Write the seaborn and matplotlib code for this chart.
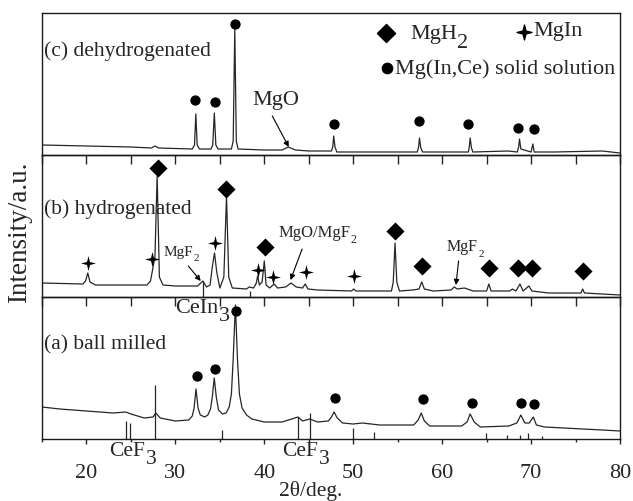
import matplotlib
matplotlib.use("Agg")
import matplotlib.pyplot as plt
from matplotlib.path import Path
import pandas as pd
import seaborn as sns

# ---------------- data (2theta in deg, intensity a.u.) -------------
# (c) dehydrogenated
pattern_c = [(15, 10), (20, 9), (25, 8), (27.3, 7), (27.7, 9), (28.1, 7), (31.9, 6), (32.15, 10),
             (32.3, 41), (32.45, 10), (32.7, 6), (34.0, 6), (34.2, 10), (34.38, 42), (34.55, 10),
             (34.8, 6), (36.3, 6), (36.5, 14), (36.68, 126), (36.85, 14), (37.05, 6), (40, 5),
             (42.0, 5), (42.7, 8), (43.5, 5), (45, 4), (47.55, 4), (47.7, 8), (47.8, 19), (47.95, 8),
             (48.15, 3), (57.2, 3), (57.35, 8), (57.45, 17), (57.6, 7), (57.8, 3), (62.95, 3),
             (63.05, 8), (63.15, 17), (63.3, 7), (63.45, 3), (67.4, 4), (68.45, 3), (68.6, 8),
             (68.7, 16), (68.85, 6), (70.0, 3), (70.2, 11), (70.35, 3), (72.6, 3), (78, 4), (80, 2)]
dots_c_x = [32.25, 34.4, 36.65, 47.85, 57.4, 62.95, 68.5, 70.35]
dots_c_y = [55, 53, 131, 31, 34, 31, 27, 26]

# (b) hydrogenated
pattern_b = [(15, 14), (19.6, 13), (19.9, 16), (20.15, 24), (20.4, 15), (21, 12), (25, 12), (26.8, 12),
             (27.2, 16), (27.45, 28), (27.7, 40), (27.95, 121), (28.2, 20), (28.6, 12), (30, 11),
             (32.5, 11), (33.1, 16), (33.5, 10), (33.9, 12), (34.15, 30), (34.4, 44), (34.65, 25),
             (35.0, 9), (35.45, 20), (35.75, 101), (36.0, 20), (36.4, 9), (38.0, 8), (38.3, 10),
             (38.8, 9), (39.1, 14), (39.25, 21), (39.45, 12), (39.75, 15), (40.0, 36), (40.2, 12),
             (40.6, 9), (41.1, 13), (41.5, 9), (42.4, 10), (43.0, 14), (43.6, 10), (44.3, 9),
             (44.6, 13), (44.9, 8), (46, 7), (49.8, 6), (50.05, 8), (50.3, 6), (54.3, 6), (54.5, 15),
             (54.7, 54), (54.9, 15), (55.2, 6), (56.7, 7), (57.4, 8), (57.7, 15), (58.0, 8), (59, 6),
             (61.0, 7), (61.35, 10), (61.7, 8), (62.5, 9), (63.5, 6), (65.0, 6), (65.25, 13),
             (65.5, 6), (67.6, 6), (67.9, 8), (68.3, 6), (68.75, 13), (69.1, 6), (69.75, 11),
             (70.1, 6), (72, 4), (75.6, 4), (75.8, 8), (76.0, 4), (80, 2)]
mgh2_b_x = [28.0, 35.7, 40.1, 54.7, 57.75, 65.3, 68.5, 70.1, 75.85]
mgh2_b_y = [129, 108, 50, 66, 31, 29, 29, 29, 26]
mgin_b_x = [20.2, 27.4, 34.4, 39.3, 41.0, 44.7, 50.1]
mgin_b_y = [34, 38, 54, 27, 20, 25, 21]
ref_b_x = [33.1, 38.4]
ref_b_h = [16, 6]

# (a) ball milled
pattern_a = [(15, 32), (17, 30), (20, 28), (23, 26), (24.4, 27), (25, 25), (26.5, 21), (27.5, 22),
             (27.8, 26), (28.3, 21), (30, 18), (31.5, 19), (31.9, 23), (32.1, 31), (32.32, 50),
             (32.55, 31), (32.8, 24), (33.3, 22), (33.65, 24), (33.95, 30), (34.15, 42), (34.37, 61),
             (34.6, 42), (34.85, 29), (35.3, 25), (35.7, 26), (36.05, 32), (36.3, 45), (36.5, 80),
             (36.75, 134), (36.98, 80), (37.2, 45), (37.5, 31), (38.0, 24), (38.6, 20), (40, 17),
             (42, 17), (43.8, 22), (44.3, 18), (45.1, 20), (46, 17), (47.2, 18), (47.55, 22),
             (47.85, 27), (48.2, 21), (48.8, 16), (50, 15), (51, 16), (53, 14), (56.8, 14),
             (57.3, 19), (57.65, 26), (58.0, 18), (58.6, 13), (62.2, 13), (62.8, 17), (63.15, 25),
             (63.6, 17), (64.3, 12), (67.5, 13), (68.4, 16), (68.85, 24), (69.3, 16), (69.8, 16),
             (70.25, 22), (70.6, 14), (71.5, 12), (78, 9), (80, 8)]
dots_a_x = [32.45, 34.4, 36.85, 47.9, 57.85, 63.4, 68.9, 70.35]
dots_a_y = [63, 70, 128, 41, 40, 36, 36, 35]
ref_a_x = [24.45, 24.95, 27.75, 35.2, 43.8, 45.1, 50.0, 52.3, 64.95, 67.3, 68.8, 69.7, 71.2]
ref_a_h = [18, 16, 54, 9, 22, 26, 11, 7, 6, 4, 4, 6, 3]

x_major = [20, 30, 40, 50, 60, 70, 80]
x_minor = [15, 25, 35, 45, 55, 65, 75]

# ---------------- style ----------------
sns.set_style("ticks")
plt.rcParams.update({
    "font.family": ["Liberation Serif", "DejaVu Serif"],
    "mathtext.fontset": "stix",
    "axes.linewidth": 1.0,
    "xtick.major.width": 1.0,
    "xtick.minor.width": 1.0,
})

LINE = "#262626"
S_DOT, S_DIAM, S_STAR = 55, 85, 115
star_path = Path([(0, 1), (0.2, 0.2), (1, 0), (0.2, -0.2), (0, -1), (-0.2, -0.2),
                  (-1, 0), (-0.2, 0.2), (0, 1)],
                 [Path.MOVETO] + [Path.LINETO] * 7 + [Path.CLOSEPOLY])

fig = plt.figure(figsize=(6.33, 5.01), dpi=100)
gs = fig.add_gridspec(3, 1, left=42 / 633, right=620 / 633, top=1 - 13 / 501,
                      bottom=1 - 439 / 501, hspace=0)
ax_c, ax_b, ax_a = [fig.add_subplot(gs[i]) for i in range(3)]


def draw_pattern(ax, pattern):
    df = pd.DataFrame(pattern, columns=["two_theta", "intensity"])
    sns.lineplot(data=df, x="two_theta", y="intensity", sort=False, estimator=None,
                 color=LINE, lw=0.9, ax=ax)


def dots(ax, xs, ys, marker="o", s=S_DOT):
    sns.scatterplot(x=xs, y=ys, marker=marker, s=s, color="k", edgecolor="k",
                    linewidth=0, ax=ax, zorder=5, clip_on=False)


def sub_text(ax, x, y, main, sub, size, sub_size, drop, coords="data"):
    tr = ax.transData if coords == "data" else ax.transAxes
    t = ax.text(x, y, main, fontsize=size, ha="left", va="baseline", transform=tr)
    ax.annotate(sub, xy=(1, 0), xycoords=t, xytext=(0.3, -drop), textcoords="offset points",
                fontsize=sub_size, ha="left", va="baseline", annotation_clip=False)
    return t


def arrow(ax, start, end):
    ax.annotate("", xy=end, xytext=start,
                arrowprops=dict(arrowstyle="-|>", color="k", lw=0.8, mutation_scale=8,
                                shrinkA=0, shrinkB=0))


# (c)
draw_pattern(ax_c, pattern_c)
dots(ax_c, dots_c_x, dots_c_y)
ax_c.text(15.25, 104, "(c) dehydrogenated", fontsize=15.5, va="center", ha="left")
ax_c.text(38.65, 54, "MgO", fontsize=16, va="center", ha="left")
arrow(ax_c, (40.9, 39), (42.75, 8))
# legend
ax_c.scatter([0.595], [0.858], marker="D", s=S_DIAM, color="k", transform=ax_c.transAxes, clip_on=False)
ax_c.scatter([0.834], [0.865], marker=star_path, s=S_STAR, color="k", transform=ax_c.transAxes, clip_on=False)
ax_c.scatter([0.597], [0.61], marker="o", s=S_DOT, color="k", transform=ax_c.transAxes, clip_on=False)
sub_text(ax_c, 0.637, 0.816, "MgH", "2", 16, 16, 2.5, coords="axes")
ax_c.text(0.85, 0.835, "MgIn", fontsize=16, ha="left", va="baseline", transform=ax_c.transAxes)
ax_c.text(0.611, 0.567, "Mg(In,Ce) solid solution", fontsize=16, ha="left", va="baseline",
          transform=ax_c.transAxes)

# (b)
draw_pattern(ax_b, pattern_b)
ax_b.vlines(ref_b_x, 0, ref_b_h, color=LINE, lw=0.9)
dots(ax_b, mgh2_b_x, mgh2_b_y, marker="D", s=S_DIAM)
dots(ax_b, mgin_b_x, mgin_b_y, marker=star_path, s=S_STAR)
ax_b.text(15.25, 88, "(b) hydrogenated", fontsize=15.5, va="center", ha="left")
sub_text(ax_b, 28.65, 41, "MgF", "2", 11, 8, 1.5)
arrow(ax_b, (31.45, 31), (32.85, 16))
sub_text(ax_b, 41.6, 60, "MgO/MgF", "2", 12, 8.5, 1.5)
arrow(ax_b, (44.25, 48), (42.95, 17))
sub_text(ax_b, 60.55, 46, "MgF", "2", 11.5, 8, 1.5)
arrow(ax_b, (61.85, 36), (61.55, 12))

# (a)
draw_pattern(ax_a, pattern_a)
ax_a.vlines(ref_a_x, 0, ref_a_h, color=LINE, lw=0.9)
dots(ax_a, dots_a_x, dots_a_y)
ax_a.text(15.25, 94, "(a) ball milled", fontsize=15.5, va="center", ha="left")
sub_text(ax_a, 29.95, 126, "CeIn", "3", 16, 16, 2.5)
sub_text(ax_a, 22.6, -17, "CeF", "3", 15.5, 15.5, 2.5).set_clip_on(False)
sub_text(ax_a, 42.0, -17, "CeF", "3", 15.5, 15.5, 2.5).set_clip_on(False)

for ax in (ax_c, ax_b, ax_a):
    ax.set_xlim(15, 80)
    ax.set_ylim(0, 142)
    ax.set_yticks([])
    ax.set_xticks(x_major)
    ax.set_xticks(x_minor, minor=True)
    ax.set_xlabel("")
    ax.set_ylabel("")
    ax.patch.set_visible(False)
    for sp in ax.spines.values():
        sp.set_visible(True)
        sp.set_linewidth(1.0)
        sp.set_color("#1a1a1a")

for ax in (ax_c, ax_b):
    ax.tick_params(axis="x", which="both", direction="out", length=6.5, width=1.0,
                   labelbottom=False, top=False, bottom=True)
ax_a.tick_params(axis="x", which="major", direction="out", length=3.5, width=1.0,
                 labelsize=16, pad=14.5, top=False)
ax_a.tick_params(axis="x", which="minor", direction="out", length=2.5, width=1.0, top=False)

fig.text(20 / 633, 1 - 232 / 501, "Intensity/a.u.", rotation=90, ha="center", va="center",
         fontsize=19.5)
fig.text(311 / 633, 1 - 491 / 501, "2θ/deg.", ha="center", va="center", fontsize=15.5)

fig.savefig("out.png", dpi=100)
